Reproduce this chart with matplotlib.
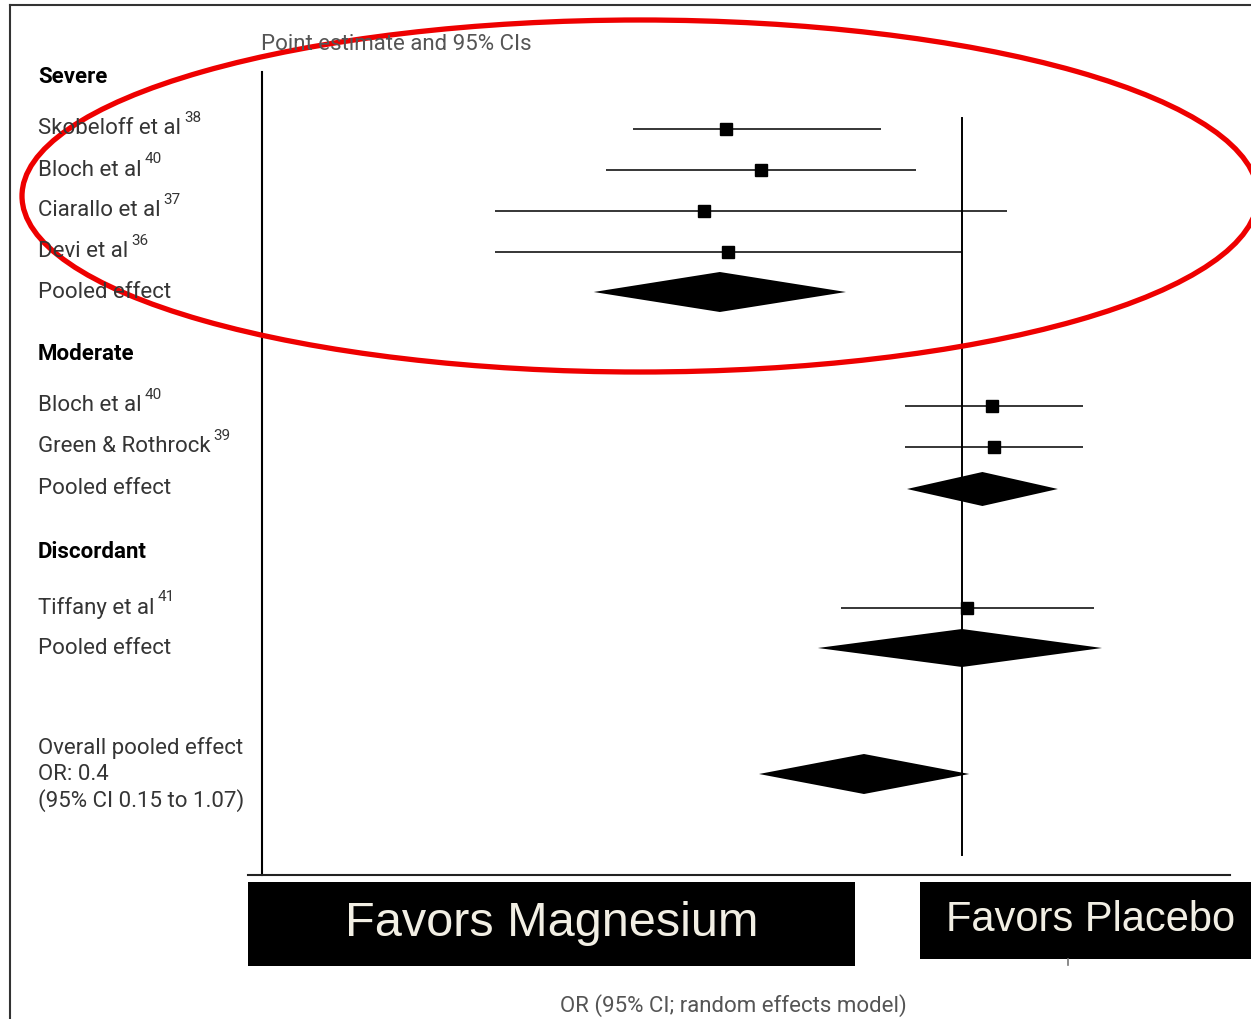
import numpy as np
import matplotlib.pyplot as plt
from matplotlib.patches import Ellipse, Rectangle
from matplotlib.lines import Line2D

# Forest plot data: odds ratios with 95% CIs
severe_names = ['Skobeloff et al', 'Bloch et al', 'Ciarallo et al', 'Devi et al']
severe_refs = ['38', '40', '37', '36']
severe_or = [0.110, 0.153, 0.090, 0.112]
severe_lo = [0.046, 0.036, 0.0127, 0.0127]
severe_hi = [0.47, 0.65, 1.52, 1.0]
severe_pool = (0.104, 0.032, 0.338)

moderate_names = ['Bloch et al', 'Green & Rothrock']
moderate_refs = ['40', '39']
moderate_or = [1.32, 1.35]
moderate_lo = [0.587, 0.587]
moderate_hi = [3.10, 3.10]
moderate_pool = (1.21, 0.598, 2.45)

discordant_names = ['Tiffany et al']
discordant_refs = ['41']
discordant_or = [1.05]
discordant_lo = [0.323]
discordant_hi = [3.43]
discordant_pool = (1.0, 0.26, 3.70)

overall_or = 0.4
overall_lo = 0.15
overall_hi = 1.07

W, H = 1251, 1019
fig = plt.figure(figsize=(W / 100, H / 100), dpi=100)
plt.rcParams['font.family'] = ['Roboto', 'DejaVu Sans']

def fx(px):
    return px / W

def fy(py):
    return 1 - py / H

# plotting area: y data runs in pixel rows, x is log odds ratio
ax_l, ax_r, ax_t, ax_b = 262, 1230, 72, 875
ax = fig.add_axes([fx(ax_l), fy(ax_b), fx(ax_r) - fx(ax_l), fy(ax_t) - fy(ax_b)])
ax.set_xscale('log')
px_per_ln = 107.0
x_one = 962.0
ax.set_xlim(np.exp((ax_l - x_one) / px_per_ln), np.exp((ax_r - x_one) / px_per_ln))
ax.set_ylim(ax_b, ax_t)
for s in ['top', 'right', 'bottom']:
    ax.spines[s].set_visible(False)
ax.spines['left'].set_linewidth(1.5)
ax.set_xticks([])
ax.set_yticks([])
ax.minorticks_off()

label_color = '#353535'
fs = 16

def study(y, name, ref, est, lo, hi):
    ax.plot([lo, hi], [y, y], color='black', lw=1.1, solid_capstyle='butt')
    ax.plot([est], [y], marker='s', color='black', markersize=8)
    t = fig.text(fx(38), fy(y), name, fontsize=fs, color=label_color, va='center')
    fig.canvas.draw()
    bb = t.get_window_extent()
    fig.text(bb.x1 / W + 3 / W, fy(y) + 11 / H, ref, fontsize=11, color=label_color, va='center')

def pooled(y, est, lo, hi, half_h=20, label='Pooled effect'):
    ax.fill([lo, est, hi, est], [y, y - half_h, y, y + half_h], color='black', lw=0)
    if label:
        fig.text(fx(38), fy(y), label, fontsize=fs, color=label_color, va='center')

def header(y, text):
    fig.text(fx(38), fy(y), text, fontsize=fs, color='black', fontweight='bold', va='center')

header(77, 'Severe')
for y, n, r, e, lo, hi in zip([129, 170, 211, 252], severe_names, severe_refs, severe_or, severe_lo, severe_hi):
    study(y, n, r, e, lo, hi)
pooled(292, *severe_pool, half_h=20)

header(354, 'Moderate')
for y, n, r, e, lo, hi in zip([406, 447], moderate_names, moderate_refs, moderate_or, moderate_lo, moderate_hi):
    study(y, n, r, e, lo, hi)
pooled(489, *moderate_pool, half_h=17)

header(552, 'Discordant')
for y, n, r, e, lo, hi in zip([608], discordant_names, discordant_refs, discordant_or, discordant_lo, discordant_hi):
    study(y, n, r, e, lo, hi)
pooled(648, *discordant_pool, half_h=19)

pooled(774, overall_or, overall_lo, overall_hi, half_h=20, label=None)
fig.text(fx(38), fy(748), 'Overall pooled effect', fontsize=fs, color=label_color, va='center')
fig.text(fx(38), fy(774), 'OR: %g' % overall_or, fontsize=fs, color=label_color, va='center')
fig.text(fx(38), fy(801), '(95%% CI %.2f to %.2f)' % (overall_lo, overall_hi), fontsize=fs,
         color=label_color, va='center')

# line of no effect
ax.plot([1, 1], [118, 855], color='black', lw=1.4)

# bottom axis line
fig.add_artist(Line2D([fx(248), fx(1230)], [fy(875), fy(875)], color='#222222', lw=1.5))

fig.text(fx(261), fy(45), 'Point estimate and 95% CIs', fontsize=fs, color='#555555', va='center')
fig.text(fx(733), fy(1006), 'OR (95% CI; random effects model)', fontsize=fs, color='#555555',
         va='center', ha='center')

# black boxes with direction labels
fig.add_artist(Rectangle((fx(248), fy(966)), fx(855) - fx(248), fy(882) - fy(966),
                         facecolor='black', edgecolor='none', transform=fig.transFigure))
fig.add_artist(Rectangle((fx(920), fy(959)), fx(1251) - fx(920), fy(882) - fy(959),
                         facecolor='black', edgecolor='none', transform=fig.transFigure))
fig.text(fx(552), fy(924), 'Favors Magnesium', fontsize=35, color='#f2efe4', family='Liberation Sans',
         ha='center', va='center')
fig.text(fx(1091), fy(920), 'Favors Placebo', fontsize=30, color='#f2efe4', family='Liberation Sans',
         ha='center', va='center')
# tick stub showing beneath the right box
fig.add_artist(Line2D([fx(1068), fx(1068)], [fy(959), fy(965)], color='#777777', lw=1.2))

# outer frame
fig.add_artist(Line2D([fx(10), fx(1251)], [fy(5), fy(5)], color='#333333', lw=1.5))
fig.add_artist(Line2D([fx(10), fx(10)], [fy(5), fy(1019)], color='#333333', lw=1.5))

# red highlight around the severe group
fig.add_artist(Ellipse((fx(640), fy(196)), fx(1236), 352 / H, angle=0, fill=False,
                       edgecolor='#ee0000', lw=3.8, transform=fig.transFigure))

fig.savefig('out.png', dpi=100)
